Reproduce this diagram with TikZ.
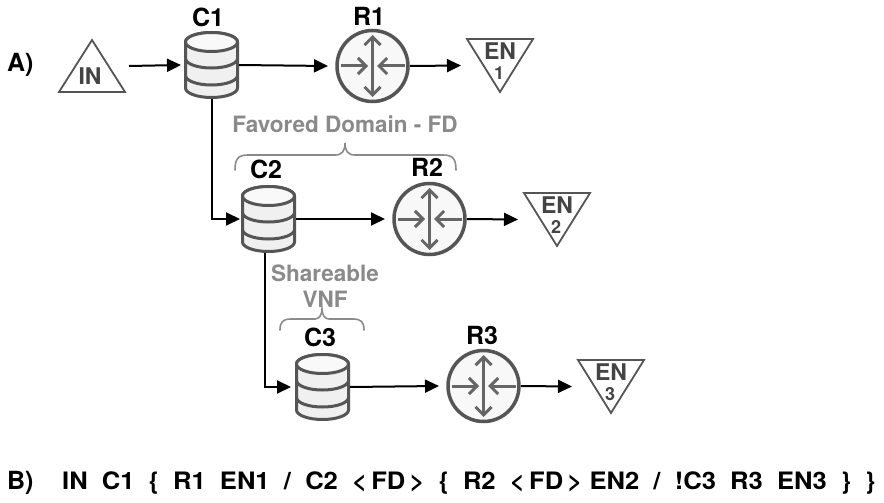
\documentclass[tikz,border=0pt]{standalone}
\usepackage{fontspec}
\setmainfont{TeX Gyre Heros}
\usetikzlibrary{arrows.meta,calc}
\definecolor{shapeline}{HTML}{555555}
\definecolor{shapefill}{HTML}{F0F0F0}
\definecolor{inner}{HTML}{666666}
\definecolor{soft}{HTML}{8A8A8A}
\definecolor{tritext}{HTML}{444444}
\tikzset{
  conn/.style={line width=2pt,black,-{Triangle[length=14pt,width=13pt]}},
  elbow/.style={conn},
  plain/.style={draw=none,fill=none,inner sep=0pt,outer sep=0pt},
  tag/.style={font=\bfseries\fontsize{25}{25}\selectfont,black,inner sep=0pt},
  softtag/.style={font=\bfseries\fontsize{22.5}{26}\selectfont,soft,inner sep=0pt,align=center},
  tritag/.style={font=\bfseries\fontsize{23}{23}\selectfont,tritext,inner sep=0pt},
  digittag/.style={font=\bfseries\fontsize{18}{18}\selectfont,tritext,inner sep=0pt},
  brace/.style={line width=1.6pt,draw=soft,line cap=round},
  tri/.style={line width=1.8pt,draw=shapeline,fill=white,line join=miter},
  db/.style={line width=3pt,draw=shapeline,fill=shapefill},
  rout/.style={line width=3.5pt,draw=shapeline,fill=shapefill!50!white},
  routin/.style={line width=3pt,draw=inner,{Straight Barb[length=8pt,width=16pt]}-{Straight Barb[length=8pt,width=16pt]}},
  routarm/.style={line width=3pt,draw=inner,-{Straight Barb[length=8pt,width=16pt]}},
}
% database: name, x, y (centre)
\newcommand{\dbshape}[3]{%
  \node[plain,minimum width=55pt,minimum height=68pt] (#1) at (#2,#3) {};
  \begin{scope}[shift={(#2,#3)}]
    \draw[db] (-26,-23) -- (-26,23) arc[start angle=180,end angle=0,x radius=26,y radius=9.5] -- (26,-23) arc[start angle=0,end angle=-180,x radius=26,y radius=9.5] -- cycle;
    \draw[db,fill=shapefill!40!white] (-26,-23) arc[start angle=180,end angle=0,x radius=26,y radius=9.5] arc[start angle=0,end angle=-180,x radius=26,y radius=9.5] -- cycle;
    \draw[db,fill=none] (-26,-6.5) arc[start angle=180,end angle=0,x radius=26,y radius=9.5];
    \draw[db,fill=none] (-26,10.5) arc[start angle=180,end angle=0,x radius=26,y radius=9.5];
  \end{scope}}
% router: name, x, y (centre)
\newcommand{\routshape}[3]{%
  \node[plain,circle,minimum size=75pt] (#1) at (#2,#3) {};
  \begin{scope}[shift={(#2,#3)}]
    \draw[rout] (0,0) circle[radius=35.5];
    \draw[routin] (0,-31) -- (0,31);
    \draw[routarm] (-32,0) -- (-4.5,0);
    \draw[routarm] (32,0) -- (4.5,0);
  \end{scope}}
% down triangle: name, x, y of centre of top edge, digit
\newcommand{\enshape}[4]{%
  \node[plain,minimum width=66pt,minimum height=53pt,anchor=north] (#1) at (#2,#3) {};
  \draw[tri] ($(#1.north west)$) -- ($(#1.north east)$) -- ($(#1.south)$) -- cycle;
  \node[tritag] (#1t) at ($(#1.north)+(0,12.5)$) {EN};
  \node[digittag] (#1d) at ($(#1.north)+(-1,34)$) {#4};}
\begin{document}
\begin{tikzpicture}[x=1pt,y=-1pt]
\useasboundingbox (0,0) rectangle (884,503);
\fill[white] (0,0) rectangle (884,503);

\node[tag,anchor=west] (lA) at (7,65) {A)};
\node[tag,anchor=west] (lB) at (7,483) {B)};

% IN
\node[plain,minimum width=66pt,minimum height=52pt,anchor=south] (in) at (92,92) {};
\draw[tri] (in.south west) -- (in.south east) -- (in.north) -- cycle;
\node[tritag] (intxt) at (90,76) {IN};

\dbshape{c1}{211.5}{65}
\dbshape{c2}{268.5}{219}
\dbshape{c3}{322.5}{387}
\routshape{r1}{372.5}{66}
\routshape{r2}{429.5}{219}
\routshape{r3}{483.5}{386}
\enshape{e1}{500}{39}{1}
\enshape{e2}{557}{193}{2}
\enshape{e3}{611}{360}{3}

\node[tag] (tc1) at (208,17) {C1};
\node[tag] (tr1) at (369,16) {R1};
\node[tag] (tc2) at (266,169) {C2};
\node[tag] (tr2) at (427,167) {R2};
\node[tag] (tc3) at (320,337) {C3};
\node[tag] (tr3) at (482,335) {R3};

\draw[conn] ($(in.east)+(4,0)$) -- ($(c1.west)+(-3,0)$);
\draw[conn] (c1.east) -- ($(r1.west)+(-7,0)$);
\draw[conn] (r1.east) -- ($(e1.north west)+(-6,26.5)$);
\draw[conn] (c2.east) -- ($(r2.west)+(-7,0)$);
\draw[conn] (r2.east) -- ($(e2.north west)+(-6,26.5)$);
\draw[conn] (c3.east) -- ($(r3.west)+(-7,0)$);
\draw[conn] (r3.east) -- ($(e3.north west)+(-6,26.5)$);
\draw[elbow] (c1.south) |- ($(c2.west)+(-1,0)$);
\draw[elbow] ($(c2.south)+(-4,0)$) |- ($(c3.west)+(-4,0)$);

\node[softtag] (fd) at (345,124) {Favored Domain - FD};
\node[softtag] (sv) at (325,286) {Shareable\\VNF};

\draw[brace] (235,170) .. controls (235,159) and (238,155) .. (248,155) -- (335,155) .. controls (342,155) and (345,151) .. (345,143) .. controls (345,151) and (348,155) .. (355,155) -- (443,155) .. controls (453,155) and (456,159) .. (456,170);
\draw[brace] (280,330) .. controls (280,322) and (283,319) .. (291,319) -- (315,319) .. controls (319,319) and (322,315) .. (322,309) .. controls (322,315) and (325,319) .. (329,319) -- (353,319) .. controls (361,319) and (364,322) .. (364,330);

\node[anchor=west,inner sep=0pt,font=\bfseries\fontsize{24}{24}\selectfont,black] (expr) at (62,483) {\resizebox{813pt}{\height}{IN\ \ C1\ \ \{\ \ R1\ \ EN1\ \ /\ \ C2\ \ <\,FD\,>\ \ \{\ \ R2\ \ <\,FD\,>\ EN2\ \ /\ \ !C3\ \ R3\ \ EN3\ \ \}\ \ \}}};
\end{tikzpicture}
\end{document}
